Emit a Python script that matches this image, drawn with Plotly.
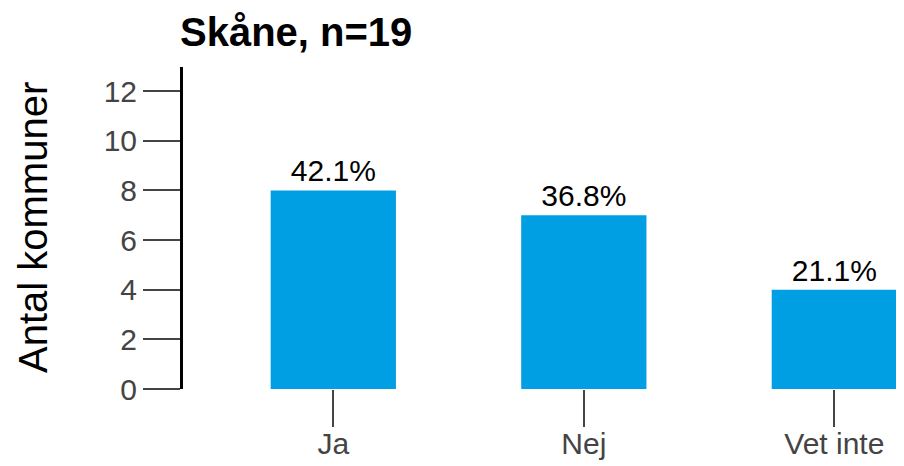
import plotly.graph_objects as go

# Skåne survey answers
categories = ["Ja", "Nej", "Vet inte"]
counts = [8, 7, 4]
percent_labels = ["42.1%", "36.8%", "21.1%"]
y_ticks = [0, 2, 4, 6, 8, 10, 12]

fig = go.Figure()
fig.add_trace(go.Bar(
    x=categories,
    y=counts,
    text=percent_labels,
    textposition="outside",
    textfont=dict(size=30, color="black", family="Arial, Liberation Sans"),
    marker=dict(color="#009FE3", line=dict(width=0)),
    width=0.5,
    cliponaxis=False,
))

fig.update_layout(
    width=904, height=466,
    margin=dict(l=175, r=0, t=59, b=85),
    plot_bgcolor="white", paper_bgcolor="white",
    showlegend=False,
    font=dict(family="Arial, Liberation Sans", color="#444"),
    title=dict(text="<b>Skåne, n=19</b>", x=172 / 904, xref="container", xanchor="left",
               y=1 - 24 / 466, yref="container", yanchor="middle",
               font=dict(size=40, color="black")),
)
fig.update_xaxes(
    range=[-0.6, 2.31],
    showline=False, showgrid=False, zeroline=False,
    ticks="outside", ticklen=37, tickwidth=1.5, tickcolor="#444",
    tickfont=dict(size=30, color="#444"),
    ticklabelstandoff=-9,
)
fig.update_yaxes(
    range=[0, 12.97],
    tickvals=y_ticks,
    showline=True, linewidth=3, linecolor="black",
    showgrid=False, zeroline=False,
    ticks="outside", ticklen=37, tickwidth=1.5, tickcolor="#444",
    tickfont=dict(size=30, color="#444"),
)
fig.add_annotation(
    text="Antal kommuner", textangle=-90,
    x=(25 - 175) / 729, y=0.5, xref="paper", yref="paper",
    xanchor="center", yanchor="middle",
    showarrow=False, font=dict(size=40, color="black"),
)

fig.write_html("out.html")
